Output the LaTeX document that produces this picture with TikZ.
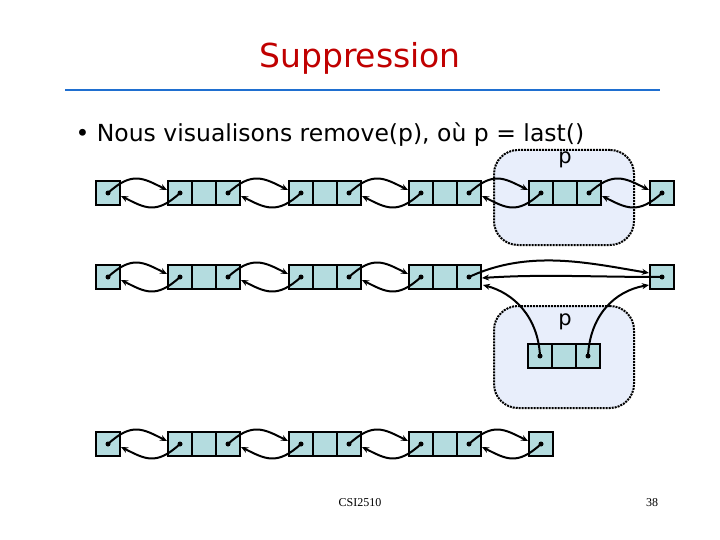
\documentclass[tikz,border=0pt]{standalone}
\usepackage{fontspec}
\setmainfont{DejaVu Sans}
\newfontfamily\ser{Liberation Serif}
\usetikzlibrary{arrows.meta,calc}
\definecolor{cellc}{HTML}{B4DCDF}
\definecolor{boxc}{HTML}{E8EEFB}
\definecolor{titc}{HTML}{C00000}
\definecolor{rulec}{HTML}{1F6FD0}
\tikzset{cell/.style={draw,line width=2pt,fill=cellc,minimum size=24pt,inner sep=0pt},
lk/.style={line width=2pt,-{Stealth[length=7pt,width=6pt]}},
pbox/.style={draw,line width=2pt,densely dotted,fill=boxc,rounded corners=24pt}}
\newcommand\lnode[4]{\foreach \i in {1,...,#4}{\node[cell] (#1-\i) at ({#2+12+24*(\i-1)},#3) {};}}
\newcommand\dlink[2]{%
 \fill (#1.center) circle (2.5pt); \fill (#2.center) circle (2.5pt);
 \draw[lk] (#1.center) .. controls +(24,-22) and +(-24,-12) .. ($(#2.west)+(0,-3)$);
 \draw[lk] (#2.center) .. controls +(-24,22) and +(24,12) .. ($(#1.east)+(0,3)$);}
\begin{document}
\begin{tikzpicture}[x=1pt,y=-1pt]
\useasboundingbox (0,0) rectangle (720,540);
\node[text=titc,font=\fontsize{33}{36}\selectfont] (title) at (360,58) {Suppression};
\draw[rulec,line width=2.5pt] (65,90) -- (660,90);
\node[anchor=west,font=\fontsize{23.5}{26}\selectfont] (bul) at (72,135) {• Nous visualisons remove(p), où p = last()};
% row 1
\node[pbox,minimum width=140pt,minimum height=95pt] (b1) at (564,197.5) {};
\node[font=\fontsize{21}{22}\selectfont] (p1) at (565,160) {p};
\lnode{a}{96}{193}{1}\lnode{b}{168}{193}{3}\lnode{c}{289}{193}{3}\lnode{d}{409}{193}{3}\lnode{e}{529}{193}{3}\lnode{f}{650}{193}{1}
\dlink{a-1}{b-1}\dlink{b-3}{c-1}\dlink{c-3}{d-1}\dlink{d-3}{e-1}\dlink{e-3}{f-1}
% row 2
\node[pbox,minimum width=140pt,minimum height=102pt] (b2) at (564,357) {};
\node[font=\fontsize{21}{22}\selectfont] (p2) at (565,322) {p};
\lnode{g}{96}{277}{1}\lnode{h}{168}{277}{3}\lnode{i}{289}{277}{3}\lnode{j}{409}{277}{3}\lnode{k}{650}{277}{1}
\lnode{p}{528}{356}{3}
\dlink{g-1}{h-1}\dlink{h-3}{i-1}\dlink{i-3}{j-1}
\fill (j-3.center) circle (2.5pt); \fill (k-1.center) circle (2.5pt);
\fill (p-1.center) circle (2.5pt); \fill (p-3.center) circle (2.5pt);
\draw[lk] (j-3.center) .. controls +(60,-28) and +(-60,-10) .. ($(k-1.west)+(0,-4)$);
\draw[lk] (k-1.center) .. controls +(-70,0) and +(60,-4) .. ($(j-3.east)+(0,1)$);
\draw[lk] (p-1.center) .. controls +(-2,-40) and +(30,8) .. ($(j-3.east)+(1,8)$);
\draw[lk] (p-3.center) .. controls +(2,-40) and +(-35,6) .. ($(k-1.west)+(0,8)$);
% row 3
\lnode{l}{96}{444}{1}\lnode{m}{168}{444}{3}\lnode{n}{289}{444}{3}\lnode{o}{409}{444}{3}\lnode{q}{529}{444}{1}
\dlink{l-1}{m-1}\dlink{m-3}{n-1}\dlink{n-3}{o-1}\dlink{o-3}{q-1}
\node[font=\ser\fontsize{12}{13}\selectfont] (ft) at (360,503) {CSI2510};
\node[font=\ser\fontsize{12}{13}\selectfont] (pg) at (652,503) {38};
\end{tikzpicture}
\end{document}
